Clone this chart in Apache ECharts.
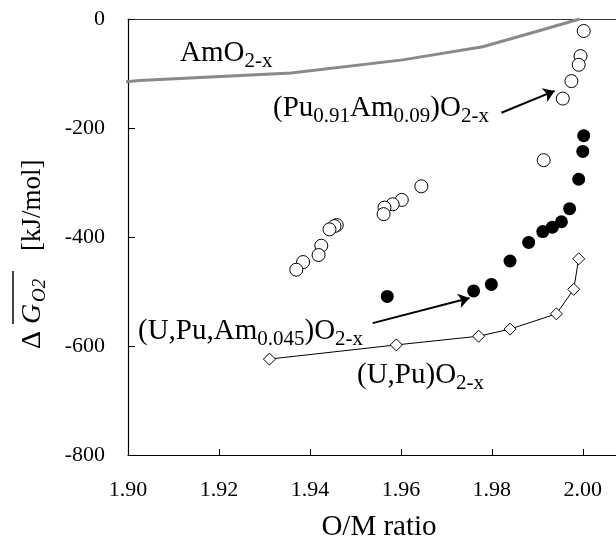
<!DOCTYPE html>
<html>
<head>
<meta charset="utf-8">
<script src="https://cdn.jsdelivr.net/npm/echarts@6/dist/echarts.min.js"></script>
<style>
  html, body { margin: 0; padding: 0; background: #fff; }
  #chart { width: 616px; height: 547px; }
</style>
</head>
<body>
<div id="chart"></div>
<script>
  // AmO2-x curve
  var amX = [1.8983, 1.9025, 1.9359, 1.9604, 1.9780, 1.9898, 1.9993];
  var amY = [-116, -113, -99, -75, -51, -23, 0];
  // (Pu0.91Am0.09)O2-x, open circles
  var puX = [2.0002, 1.9995, 1.9991, 1.9975, 1.9956, 1.9914, 1.9645, 1.9602, 1.9582, 1.9564, 1.9562, 1.9459, 1.9454, 1.9443, 1.9425, 1.9419, 1.9385, 1.9370];
  var puY = [-22, -68, -84, -114, -146, -259, -307, -332, -340, -346, -358, -378, -380, -386, -416, -433, -446, -460];
  // (U,Pu,Am0.045)O2-x, filled circles
  var upaX = [2.0002, 2.0000, 1.9991, 1.9971, 1.9953, 1.9933, 1.9912, 1.9881, 1.9840, 1.9799, 1.9760, 1.9570];
  var upaY = [-214, -243, -294, -348, -372, -382, -390, -410, -444, -487, -499, -509];
  // (U,Pu)O2-x, diamonds + line
  var upX = [1.9311, 1.9590, 1.9771, 1.9840, 1.9942, 1.9980, 1.9991];
  var upY = [-624, -598, -582, -569, -541, -496, -440];
  // arrows: [from, to]
  var arrowPu = [[1.9821, -172], [1.9938, -132]];
  var arrowUpa = [[1.9538, -558], [1.9751, -512]];

  function zip(a, b) {
    return a.map(function (v, i) { return [v, b[i]]; });
  }

  var SERIF = 'Liberation Serif';
  var rich = {
    n: { fontFamily: SERIF, fontSize: 29, color: '#000' },
    s: { fontFamily: SERIF, fontSize: 21, color: '#000', padding: [16, 0, 0, 0] }
  };
  function note(x, y, text) {
    return {
      type: 'text', x: x, y: y, silent: true,
      style: { text: text, rich: rich, verticalAlign: 'middle', align: 'left' }
    };
  }

  var myChart = echarts.init(document.getElementById('chart'));
  var option = {
    animation: false,
    grid: { left: 128, top: 19, right: 0, bottom: 82 },
    xAxis: [{
      type: 'value',
      min: 1.90,
      max: 2.0073,
      interval: 0.02,
      splitLine: { show: false },
      axisLine: { onZero: false, lineStyle: { color: '#000', width: 1.2 } },
      axisTick: { inside: true, length: 6, lineStyle: { color: '#000' } },
      axisLabel: {
        margin: 24, color: '#000', fontFamily: SERIF, fontSize: 22,
        showMaxLabel: false,
        formatter: function (v) { return v.toFixed(2); }
      },
      name: 'O/M ratio',
      nameLocation: 'middle',
      nameGap: 58,
      nameTextStyle: { color: '#000', fontFamily: SERIF, fontSize: 29, padding: [0, 0, 0, 14] }
    }, {
      type: 'value', position: 'top',
      min: 1.90, max: 2.0073,
      splitLine: { show: false },
      axisLine: { onZero: false, lineStyle: { color: '#333', width: 1.2 } },
      axisTick: { show: false },
      axisLabel: { show: false }
    }],
    yAxis: {
      type: 'value',
      min: -800,
      max: 0,
      interval: 200,
      splitLine: { show: false },
      axisLine: { show: true, onZero: false, lineStyle: { color: '#000', width: 1.2 } },
      axisTick: { show: true, inside: true, length: 7, lineStyle: { color: '#000' } },
      axisLabel: { margin: 23, color: '#000', fontFamily: SERIF, fontSize: 22 }
    },
    series: [
      {
        name: 'AmO2-x',
        type: 'line',
        data: zip(amX, amY),
        showSymbol: false,
        clip: false,
        lineStyle: { color: '#8a8a8a', width: 3 }
      },
      {
        name: '(U,Pu)O2-x',
        type: 'line',
        data: zip(upX, upY),
        symbol: 'diamond',
        symbolSize: 12,
        showSymbol: true,
        lineStyle: { color: '#000', width: 1 },
        itemStyle: { color: '#fff', borderColor: '#000', borderWidth: 1 }
      },
      {
        name: '(Pu0.91Am0.09)O2-x',
        type: 'scatter',
        data: zip(puX, puY),
        symbol: 'circle',
        symbolSize: 13,
        itemStyle: { color: '#fff', borderColor: '#000', borderWidth: 1, opacity: 1 },
        markLine: {
          silent: true,
          symbol: ['none', 'arrow'],
          symbolSize: 11,
          label: { show: false },
          lineStyle: { color: '#000', width: 2, type: 'solid' },
          data: [[{ coord: arrowPu[0] }, { coord: arrowPu[1] }]]
        }
      },
      {
        name: '(U,Pu,Am0.045)O2-x',
        type: 'scatter',
        data: zip(upaX, upaY),
        symbol: 'circle',
        symbolSize: 13,
        itemStyle: { color: '#000', opacity: 1 },
        markLine: {
          silent: true,
          symbol: ['none', 'arrow'],
          symbolSize: 11,
          label: { show: false },
          lineStyle: { color: '#000', width: 2, type: 'solid' },
          data: [[{ coord: arrowUpa[0] }, { coord: arrowUpa[1] }]]
        }
      }
    ],
    graphic: [
      note(180, 53.5, '{n|AmO}{s|2-x}'),
      note(273, 108, '{n|(Pu}{s|0.91}{n|Am}{s|0.09}{n|)O}{s|2-x}'),
      note(138, 331, '{n|(U,Pu,Am}{s|0.045}{n|)O}{s|2-x}'),
      note(357, 375, '{n|(U,Pu)O}{s|2-x}'),
      {
        // y axis title, rotated to read bottom-up
        type: 'group', x: 33, y: 255, rotation: Math.PI / 2, silent: true,
        children: [
          { type: 'text', x: -94, y: 0, style: { text: 'Δ', fontFamily: SERIF, fontSize: 28, fill: '#000', verticalAlign: 'middle' } },
          { type: 'text', x: -69, y: 0, style: { text: 'G', fontFamily: SERIF, fontStyle: 'italic', fontSize: 28, fill: '#000', verticalAlign: 'middle' } },
          { type: 'text', x: -47, y: 7, style: { text: 'O2', fontFamily: SERIF, fontStyle: 'italic', fontSize: 19, fill: '#000', verticalAlign: 'middle' } },
          { type: 'line', shape: { x1: -69, y1: -20, x2: -16, y2: -20 }, style: { stroke: '#000', lineWidth: 1.5 } },
          { type: 'text', x: 4, y: 0, style: { text: '[kJ/mol]', fontFamily: SERIF, fontSize: 27, fill: '#000', verticalAlign: 'middle' } }
        ]
      }
    ]
  };
  myChart.setOption(option);
</script>
</body>
</html>
